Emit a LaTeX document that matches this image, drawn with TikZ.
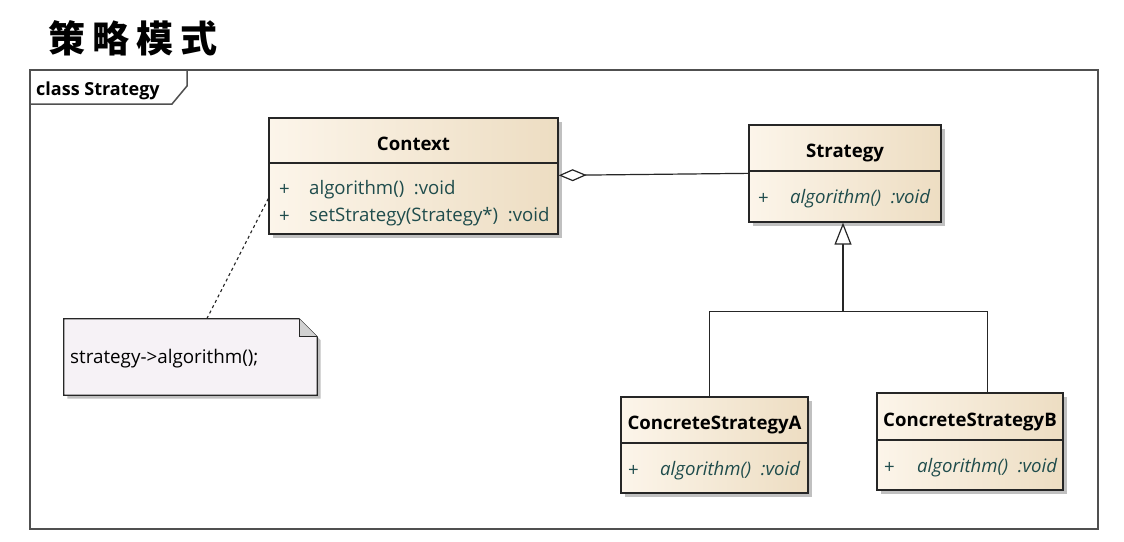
\documentclass[tikz,border=0pt]{standalone}
\usepackage{fontspec}
\setmainfont{Open Sans}
\newfontfamily\cjk{Noto Sans CJK SC}
\usetikzlibrary{arrows.meta,shadows,calc}

\definecolor{hdrL}{HTML}{FCF5EA}
\definecolor{hdrR}{HTML}{EDDDC2}
\definecolor{attr}{HTML}{1F4C4C}
\definecolor{frameC}{HTML}{505050}
\definecolor{noteFill}{HTML}{F6F2F6}

\tikzset{
  boxshadow/.style={drop shadow={shadow xshift=3.5pt, shadow yshift=-3.5pt, fill=black!35, opacity=.7}},
  classpart/.style={draw=black!85, line width=1.3pt, left color=hdrL, right color=hdrR,
     shading angle=90, boxshadow, inner sep=0pt},
  hdr/.style={classpart, text height=19pt, text depth=0pt, font=\bfseries\fontsize{18.6}{21}\selectfont},
  body/.style={classpart},
  attrtext/.style={anchor=west, inner sep=0pt, text=attr, font=\fontsize{18.6}{21}\selectfont},
  opattr/.style={attrtext, font=\itshape\fontsize{18.6}{21}\selectfont},
  link/.style={draw=black!85, line width=1.2pt},
}

\begin{document}
\begin{tikzpicture}[x=1pt,y=-1pt]
  \useasboundingbox (0,0) rectangle (1124,541);
  \fill[white] (0,0) rectangle (1124,541);

  % title
  \node[anchor=west, inner sep=0pt, font=\cjk\bfseries\fontsize{37}{40}\selectfont] (title) at (48,38)
    {策\hspace{7pt}略\hspace{7pt}模\hspace{7pt}式};

  % diagram frame with its name tab
  \draw[frameC, line width=1.5pt] (30,70) rectangle (1098,529);
  \draw[frameC, line width=1.5pt] (187,70) -- (187,86) -- (172,104) -- (30,104);
  \node[anchor=west, inner sep=0pt, font=\bfseries\fontsize{18}{20}\selectfont] (frameName) at (36,91) {class Strategy};

  % Context
  \node[hdr, minimum width=289pt, minimum height=45pt] (ctxH) at (413.5,140.5) {Context};
  \node[body, minimum width=289pt, minimum height=71pt] (ctxB) at (413.5,198.5) {};
  \node[attrtext] (ctxP1) at (279,190) {+};
  \node[attrtext] (ctxA1) at (309,190) {algorithm()\ \ :void};
  \node[attrtext] (ctxP2) at (279,217) {+};
  \node[attrtext] (ctxA2) at (309,217) {setStrategy(Strategy*)\ \ :void};

  % Strategy
  \node[hdr, minimum width=192pt, minimum height=46pt] (stH) at (845,148) {Strategy};
  \node[body, minimum width=192pt, minimum height=51pt] (stB) at (845,196.5) {};
  \node[attrtext] (stP) at (758,199) {+};
  \node[opattr] (stA) at (790,199) {algorithm()\ \ :void};

  % ConcreteStrategyA
  \node[hdr, minimum width=187pt, minimum height=46pt] (caH) at (714.5,420) {ConcreteStrategyA};
  \node[body, minimum width=187pt, minimum height=50pt] (caB) at (714.5,468) {};
  \begin{scope}
    \clip (caB.south west) rectangle (caB.north east);
    \node[attrtext] (caP) at (628,471) {+};
    \node[opattr] (caA) at (660,471) {algorithm()\ \ :void};
  \end{scope}

  % ConcreteStrategyB
  \node[hdr, minimum width=186pt, minimum height=47pt] (cbH) at (970,416.5) {ConcreteStrategyB};
  \node[body, minimum width=186pt, minimum height=50pt] (cbB) at (970,465) {};
  \begin{scope}
    \clip (cbB.south west) rectangle (cbB.north east);
    \node[attrtext] (cbP) at (884,468) {+};
    \node[opattr] (cbA) at (917,468) {algorithm()\ \ :void};
  \end{scope}

  % note
  \node[minimum width=253pt, minimum height=76pt, inner sep=0pt] (note) at (190.5,357) {};
  \fill[black!35, opacity=.7] ($(note.north west)+(3.5,3.5)$) -- ($(note.north east)+(-14.5,3.5)$)
     -- ($(note.north east)+(3.5,21.5)$) -- ($(note.south east)+(3.5,3.5)$) -- ($(note.south west)+(3.5,3.5)$) -- cycle;
  \filldraw[fill=noteFill, draw=black!85, line width=1.2pt]
     (note.north west) -- ($(note.north east)+(-18,0)$) -- ($(note.north east)+(0,18)$)
     -- (note.south east) -- (note.south west) -- cycle;
  \filldraw[fill=black!18, draw=black!85, line width=1pt]
     ($(note.north east)+(-18,0)$) -- ($(note.north east)+(-18,18)$) -- ($(note.north east)+(0,18)$);
  \node[anchor=west, inner sep=0pt, font=\fontsize{18.8}{21}\selectfont] (noteText) at (70,359) {strategy->algorithm();};

  % note attachment
  \draw[link, line width=1.1pt, dash pattern=on 3pt off 3pt] (ctxB.west) -- ($(note.north west)+(143,0)$);

  % aggregation Context <>-- Strategy
  \draw[link, {Diamond[open, fill=white, length=28pt, width=12pt]}-]
     ($(ctxB.north east)+(0,13)$) -- ($(stB.north west)+(0,3)$);

  % generalization
  \coordinate (junction) at ($(stB.south)+(-2,89)$);
  \draw[link, -{Triangle[open, fill=white, length=22pt, width=17pt]}] (junction) -- (junction |- stB.south);
  \draw[link] ($(caH.north west)+(89,0)$) |- (junction) -| ($(cbH.north west)+(111,0)$);
\end{tikzpicture}
\end{document}
